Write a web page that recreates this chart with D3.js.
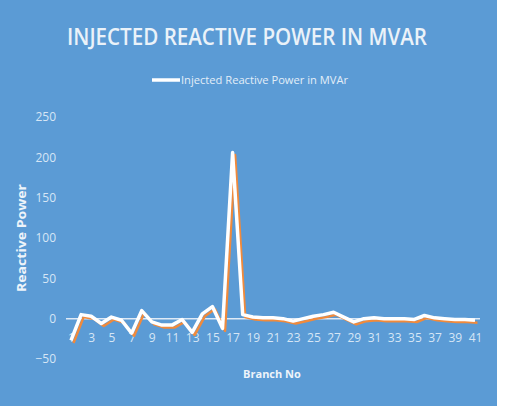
<!DOCTYPE html>
<html>
<head>
<meta charset="utf-8">
<script src="https://d3js.org/d3.v7.min.js"></script>
<style>
  body { margin: 0; background: #fff; }
  svg { display: block; }
</style>
</head>
<body>
<div id="chart"></div>
<script>
  // Injected reactive power per branch (MVAr)
  var branches = d3.range(1, 42);
  var reactive = [-27, 5, 3, -6, 2, -2, -18, 10, -4, -8,
                  -8, -1, -17, 6, 15, -12, 206, 5, 2, 1,
                  1, 0, -3, 0, 3, 5, 8, 2, -4, 0,
                  1, 0, 0, 0, -1, 4, 1, 0, -1, -1, -2];
  var yTicks = [-50, 0, 50, 100, 150, 200, 250];
  var xTicks = d3.range(1, 42, 2);

  var W = 505, H = 406;
  var svg = d3.select("#chart").append("svg")
    .attr("width", W).attr("height", H);

  svg.append("rect")
    .attr("x", 0).attr("y", 0)
    .attr("width", 497).attr("height", H)
    .attr("fill", "#5b9bd5");

  var x = d3.scaleLinear().domain([1, 41]).range([71, 475]);
  var y = d3.scaleLinear().domain([-50, 250]).range([359, 117]);

  // title
  svg.append("text")
    .attr("x", 247).attr("y", 45)
    .attr("text-anchor", "middle")
    .attr("textLength", 360).attr("lengthAdjust", "spacingAndGlyphs")
    .style("font-family", "Open Sans, sans-serif")
    .style("font-weight", "600")
    .style("font-size", "23px")
    .attr("fill", "#eaf2f9")
    .text("INJECTED REACTIVE POWER IN MVAR");

  // legend
  svg.append("line")
    .attr("x1", 152).attr("x2", 180).attr("y1", 80).attr("y2", 80)
    .attr("stroke", "#ffffff").attr("stroke-width", 3.5);
  svg.append("text")
    .attr("x", 181).attr("y", 84)
    .attr("textLength", 167).attr("lengthAdjust", "spacingAndGlyphs")
    .style("font-family", "Open Sans, sans-serif")
    .style("font-size", "11px")
    .attr("fill", "#e3eef8")
    .text("Injected Reactive Power in MVAr");

  // y axis labels
  var yAxis = d3.axisLeft(y).tickValues(yTicks).tickSize(0).tickPadding(0);
  var gy = svg.append("g").attr("transform", "translate(56,0)").call(yAxis);
  gy.select(".domain").remove();
  gy.selectAll("text")
    .style("font-family", "Liberation Sans Narrow, Open Sans, sans-serif")
    .style("font-size", "12px")
    .attr("fill", "#d6e6f5");

  // zero line
  svg.append("line")
    .attr("x1", 66).attr("x2", 480)
    .attr("y1", y(0)).attr("y2", y(0))
    .attr("stroke", "#dfeaf6").attr("stroke-width", 1.5);

  // x axis labels (low position)
  var xAxis = d3.axisBottom(x).tickValues(xTicks).tickSize(0).tickPadding(0);
  var gx = svg.append("g").attr("transform", "translate(0,333)").call(xAxis);
  gx.select(".domain").remove();
  gx.selectAll("text")
    .style("font-family", "Liberation Sans Narrow, Open Sans, sans-serif")
    .style("font-size", "12px")
    .attr("fill", "#d6e6f5");

  // axis titles
  svg.append("text")
    .attr("x", 272).attr("y", 378)
    .attr("text-anchor", "middle")
    .style("font-family", "Open Sans, sans-serif")
    .style("font-weight", "bold")
    .style("font-size", "11px")
    .attr("fill", "#eef4fa")
    .text("Branch No");
  svg.append("text")
    .attr("transform", "translate(26,238) rotate(-90)")
    .attr("text-anchor", "middle")
    .attr("textLength", 108).attr("lengthAdjust", "spacingAndGlyphs")
    .style("font-family", "Open Sans, sans-serif")
    .style("font-weight", "bold")
    .style("font-size", "12px")
    .attr("fill", "#eef4fa")
    .text("Reactive Power");

  // series: orange shadow then white line
  var line = d3.line()
    .x(function(d, i) { return x(branches[i]); })
    .y(function(d) { return y(d); });

  svg.append("path")
    .datum(reactive)
    .attr("transform", "translate(2.5,2.5)")
    .attr("d", line)
    .attr("fill", "none")
    .attr("stroke", "#f08a3c")
    .attr("stroke-width", 2.5)
    .attr("stroke-linejoin", "round");

  svg.append("path")
    .datum(reactive)
    .attr("d", line)
    .attr("fill", "none")
    .attr("stroke", "#ffffff")
    .attr("stroke-width", 3.5)
    .attr("stroke-linejoin", "round");
</script>
</body>
</html>
